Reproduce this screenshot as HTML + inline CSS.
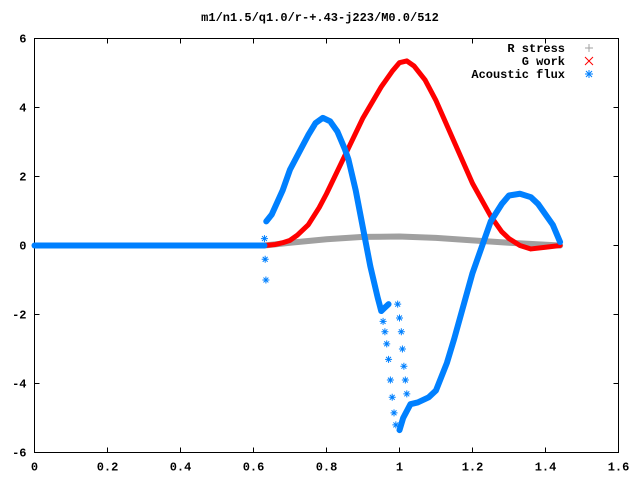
<!DOCTYPE html>
<html><head><meta charset="utf-8"><style>
body{margin:0;background:#fff}
svg text{font-family:"Liberation Mono",monospace;font-size:12px;font-weight:bold;fill:#000}
</style></head><body>
<svg width="640" height="480" xmlns="http://www.w3.org/2000/svg">
<rect width="640" height="480" fill="#fff"/>
<text x="320" y="21" text-anchor="middle">m1/n1.5/q1.0/r-+.43-j223/M0.0/512</text>
<g id="axes"></g>
<g id="series"></g>
<g id="legend"></g>
</svg>
<script>
const xTicks=[0,0.2,0.4,0.6,0.8,1,1.2,1.4,1.6];
const xTickLabels=["0","0.2","0.4","0.6","0.8","1","1.2","1.4","1.6"];
const yTicks=[-6,-4,-2,0,2,4,6];
const yTickLabels=["-6","-4","-2","0","2","4","6"];
const rX=[0.63,0.7,0.8,0.9,1.0,1.1,1.2,1.3,1.44];
const rY=[0,0.08,0.18,0.25,0.26,0.22,0.15,0.08,0];
const gX=[0.63,0.66,0.68,0.7,0.72,0.75,0.78,0.8,0.85,0.9,0.95,0.98,1.0,1.02,1.04,1.07,1.1,1.15,1.2,1.25,1.28,1.3,1.33,1.36,1.4,1.44];
const gY=[0,0.03,0.08,0.15,0.3,0.6,1.1,1.5,2.6,3.7,4.6,5.05,5.3,5.35,5.2,4.8,4.2,3.0,1.8,0.85,0.4,0.2,0,-0.1,-0.05,0];
const aFlatX=[0,0.63];
const aFlatY=[0,0];
const aX=[0.635,0.65,0.68,0.7,0.73,0.75,0.77,0.79,0.81,0.83,0.85,0.86,0.88,0.9,0.92,0.94,0.95,0.96,0.97];
const aY=[0.7,0.9,1.6,2.2,2.8,3.2,3.55,3.7,3.6,3.3,2.8,2.5,1.6,0.5,-0.6,-1.5,-1.9,-1.8,-1.7];
const aX2=[1.0,1.01,1.03,1.05,1.08,1.1,1.13,1.15,1.2,1.25,1.28,1.3,1.33,1.36,1.38,1.42,1.44];
const aY2=[-5.35,-5.0,-4.6,-4.55,-4.4,-4.2,-3.4,-2.7,-0.8,0.7,1.2,1.45,1.5,1.4,1.2,0.6,0.1];
const aSX=[0.63,0.632,0.634,0.955,0.96,0.965,0.97,0.975,0.98,0.985,0.99,0.995,1.0,1.005,1.008,1.012,1.016,1.02];
const aSY=[0.2,-0.4,-1.0,-2.2,-2.5,-2.85,-3.3,-3.9,-4.4,-4.85,-5.2,-1.7,-2.1,-2.5,-3.0,-3.5,-3.9,-4.3];
const L=34.5,R=618.5,T=38.5,B=452.5;
const sx=v=>L+(v-0)/(1.6)*(R-L);
const sy=v=>B-(v+6)/12*(B-T);
const NS="http://www.w3.org/2000/svg";
function mk(tag,attrs,parent){const e=document.createElementNS(NS,tag);for(const k in attrs)e.setAttribute(k,attrs[k]);parent.appendChild(e);return e;}
const ax=document.getElementById('axes');
const frame=mk('rect',{x:L,y:T,width:R-L,height:B-T,fill:'none',stroke:'#000','stroke-width':1},ax);


xTicks.forEach((v,i)=>{
  const x=sx(v);
  const t=mk('path',{d:`M${x},${B}v-5M${x},${T}v5`,stroke:'#000'},ax);
  
  
  const l=mk('text',{x:x,y:B+18,'text-anchor':'middle'},ax);l.textContent=xTickLabels[i];
  
  
});
yTicks.forEach((v,i)=>{
  const y=sy(v);
  const t=mk('path',{d:`M${L},${y}h5M${R},${y}h-5`,stroke:'#000'},ax);
  
  
  const l=mk('text',{x:L-8,y:y+4,'text-anchor':'end'},ax);l.textContent=yTickLabels[i];
  
  
});
const sg=document.getElementById('series');
function line(xs,ys,color,w,name){
  const p=mk('polyline',{points:xs.map((x,i)=>sx(x)+','+sy(ys[i])).join(' '),fill:'none',stroke:color,'stroke-width':w,'stroke-linejoin':'round','stroke-linecap':'round'},sg);
  
  
}
function star(x,y,color,g){
  const s=3.5;
  const p=mk('path',{d:`M${x-s},${y}h${2*s}M${x},${y-s}v${2*s}M${x-s*0.7},${y-s*0.7}l${1.4*s},${1.4*s}M${x-s*0.7},${y+s*0.7}l${1.4*s},${-1.4*s}`,stroke:color,'stroke-width':1},g);
  
  
}
line(rX,rY,'#a0a0a0',6,'r-stress-series');
line(gX,gY,'#ff0000',5,'g-work-series');
line(aFlatX,aFlatY,'#0080ff',6,'acoustic-flux-flat');
line(aX,aY,'#0080ff',6,'acoustic-flux-left');
line(aX2,aY2,'#0080ff',6,'acoustic-flux-right');
aSX.forEach((x,i)=>star(sx(x),sy(aSY[i]),'#0080ff',sg));
const lg=document.getElementById('legend');
const entries=[["R stress","#a0a0a0","+"],["G work","#ff0000","x"],["Acoustic flux","#0080ff","*"]];
entries.forEach((e,i)=>{
  const y=52+i*13;
  const g=mk('g',{},lg);
  
  
  const t=mk('text',{x:565,y:y,'text-anchor':'end'},g);t.textContent=e[0];
  const cx=589,cy=y-4,s=4;
  let d;
  if(e[2]=="+")d=`M${cx-s},${cy}h${2*s}M${cx},${cy-s}v${2*s}`;
  else if(e[2]=="x")d=`M${cx-s},${cy-s}l${2*s},${2*s}M${cx-s},${cy+s}l${2*s},${-2*s}`;
  else d=`M${cx-s},${cy}h${2*s}M${cx},${cy-s}v${2*s}M${cx-3},${cy-3}l6,6M${cx-3},${cy+3}l6,-6`;
  mk('path',{d:d,stroke:e[1],'stroke-width':1},g);
});
</script>
</body></html>
